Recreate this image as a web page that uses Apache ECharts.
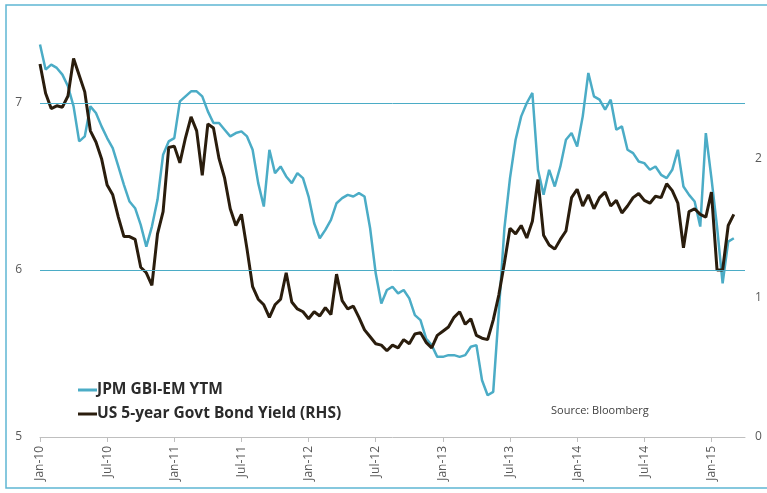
<!DOCTYPE html>
<html>
<head>
<meta charset="utf-8">
<script src="https://cdn.jsdelivr.net/npm/echarts@6/dist/echarts.min.js"></script>
<style>
  html, body { margin: 0; padding: 0; background: #ffffff; }
  #chart { width: 767px; height: 493px; }
</style>
</head>
<body>
<div id="chart"></div>
<script>
// Semi-monthly observations, Jan 2010 to Mar 2015 (1st and 16th of each month)
const tickLabels = ['Jan-10', 'Jul-10', 'Jan-11', 'Jul-11', 'Jan-12', 'Jul-12',
  'Jan-13', 'Jul-13', 'Jan-14', 'Jul-14', 'Jan-15'];

// JPM GBI-EM yield to maturity (%), left axis
const gbiEm = [
  7.35, 7.20, 7.23, 7.21, 7.17, 7.10, 6.98, 6.77, 6.80, 6.98,
  6.94, 6.86, 6.79, 6.73, 6.62, 6.51, 6.41, 6.37, 6.27, 6.14,
  6.26, 6.42, 6.69, 6.77, 6.79, 7.01, 7.04, 7.07, 7.07, 7.04,
  6.95, 6.88, 6.88, 6.84, 6.80, 6.82, 6.83, 6.80, 6.72, 6.52,
  6.38, 6.72, 6.58, 6.62, 6.56, 6.52, 6.58, 6.55, 6.44, 6.28,
  6.19, 6.24, 6.30, 6.40, 6.43, 6.45, 6.44, 6.46, 6.44, 6.25,
  5.98, 5.80, 5.88, 5.90, 5.86, 5.88, 5.83, 5.73, 5.70, 5.59,
  5.55, 5.48, 5.48, 5.49, 5.49, 5.48, 5.49, 5.54, 5.55, 5.34,
  5.25, 5.27, 5.75, 6.25, 6.55, 6.78, 6.92, 7.00, 7.06, 6.60,
  6.45, 6.60, 6.50, 6.62, 6.78, 6.82, 6.74, 6.92, 7.18, 7.04,
  7.02, 6.96, 7.02, 6.84, 6.86, 6.72, 6.70, 6.65, 6.64, 6.60,
  6.62, 6.57, 6.55, 6.60, 6.72, 6.50, 6.45, 6.41, 6.26, 6.82,
  6.55, 6.26, 5.92, 6.17, 6.19
];

// US 5-year Treasury yield (%), right axis
const us5y = [
  2.68, 2.47, 2.36, 2.38, 2.37, 2.45, 2.72, 2.60, 2.48, 2.20,
  2.12, 2.00, 1.81, 1.74, 1.58, 1.44, 1.44, 1.42, 1.22, 1.18,
  1.09, 1.46, 1.62, 2.08, 2.09, 1.97, 2.15, 2.30, 2.20, 1.88,
  2.25, 2.22, 2.00, 1.86, 1.64, 1.52, 1.60, 1.35, 1.08, 0.99,
  0.95, 0.86, 0.95, 0.99, 1.18, 0.97, 0.92, 0.90, 0.85, 0.90,
  0.87, 0.93, 0.88, 1.17, 0.98, 0.92, 0.94, 0.86, 0.77, 0.72,
  0.67, 0.66, 0.62, 0.66, 0.64, 0.70, 0.67, 0.74, 0.75, 0.68,
  0.64, 0.73, 0.76, 0.79, 0.86, 0.90, 0.81, 0.85, 0.73, 0.71,
  0.70, 0.84, 1.02, 1.25, 1.50, 1.46, 1.52, 1.43, 1.55, 1.85,
  1.45, 1.38, 1.35, 1.42, 1.48, 1.72, 1.78, 1.66, 1.74, 1.64,
  1.72, 1.76, 1.66, 1.70, 1.61, 1.66, 1.72, 1.75, 1.70, 1.68,
  1.73, 1.72, 1.82, 1.77, 1.68, 1.36, 1.62, 1.64, 1.60, 1.58,
  1.76, 1.20, 1.20, 1.52, 1.60
];

const leftGridValues = [6, 7];

// Category dates: 1st and 16th of each month, running a little past the last observation
const categories = [];
for (let i = 0; i < 127; i++) {
  const m = Math.floor(i / 2);
  const y = 2010 + Math.floor(m / 12);
  const mm = String((m % 12) + 1).padStart(2, '0');
  categories.push(y + '-' + mm + '-' + (i % 2 ? '16' : '01'));
}

const CYAN = '#4bacc6';
const DARK = '#2a1d0d';
const FONT = 'Open Sans';

const chart = echarts.init(document.getElementById('chart'), null, { renderer: 'canvas' });

chart.setOption({
  animation: false,
  backgroundColor: '#ffffff',
  textStyle: { fontFamily: FONT },
  grid: { left: 40, right: 22, top: 19.5, bottom: 56, containLabel: false },
  legend: {
    orient: 'vertical',
    left: 73,
    top: 377,
    itemWidth: 19,
    itemHeight: 3,
    itemGap: 8,
    icon: 'rect',
    textStyle: {
      color: '#2b2b2b', fontSize: 15.5, fontWeight: 'bold', fontFamily: FONT,
      padding: [0, 0, 0, -5]
    },
    data: ['JPM GBI-EM YTM', 'US 5-year Govt Bond Yield (RHS)']
  },
  xAxis: {
    type: 'category',
    data: categories,
    boundaryGap: false,
    axisLine: { lineStyle: { color: '#bfbfbf', width: 1 } },
    axisTick: {
      show: true,
      interval: (i) => i % 12 === 0,
      length: 5,
      lineStyle: { color: '#bfbfbf' }
    },
    axisLabel: {
      interval: (i) => i % 12 === 0,
      rotate: 90,
      margin: 9,
      color: '#595959',
      fontSize: 12,
      fontFamily: FONT,
      formatter: (v, i) => tickLabels[i / 12] || ''
    },
    splitLine: { show: false }
  },
  yAxis: [
    {
      type: 'value',
      min: 5,
      max: 7.5,
      interval: 1,
      axisLine: { show: false },
      axisTick: { show: false },
      splitLine: { show: false },
      axisLabel: {
        color: '#595959',
        fontSize: 12,
        fontFamily: FONT,
        margin: 18,
        formatter: (v) => (Number.isInteger(v) ? String(v) : '')
      }
    },
    {
      type: 'value',
      min: 0,
      max: 3,
      interval: 1,
      axisLine: { show: false },
      axisTick: { show: false },
      splitLine: { show: false },
      axisLabel: {
        color: '#595959',
        fontSize: 12,
        fontFamily: FONT,
        margin: 10,
        formatter: (v) => (v < 3 ? String(v) : '')
      }
    }
  ],
  series: [
    {
      name: 'JPM GBI-EM YTM',
      type: 'line',
      yAxisIndex: 0,
      data: gbiEm,
      showSymbol: false,
      symbol: 'none',
      color: CYAN,
      lineStyle: { color: CYAN, width: 2.5 },
      markLine: {
        silent: true,
        symbol: 'none',
        label: { show: false },
        lineStyle: { color: CYAN, width: 1, type: 'solid' },
        data: leftGridValues.map((v) => ({ yAxis: v }))
      },
      z: 2
    },
    {
      name: 'US 5-year Govt Bond Yield (RHS)',
      type: 'line',
      yAxisIndex: 1,
      data: us5y,
      showSymbol: false,
      symbol: 'none',
      color: DARK,
      lineStyle: { color: DARK, width: 3 },
      z: 3
    }
  ],
  graphic: [
    {
      type: 'rect',
      shape: { x: 6, y: 5, width: 770, height: 483 },
      style: { fill: 'none', stroke: '#5fb6d3', lineWidth: 1.5 },
      silent: true
    },
    {
      type: 'text',
      left: 551,
      top: 405,
      style: { text: 'Source: Bloomberg', fill: '#404040', font: '11px "Open Sans"' },
      silent: true
    }
  ]
});
</script>
</body>
</html>
